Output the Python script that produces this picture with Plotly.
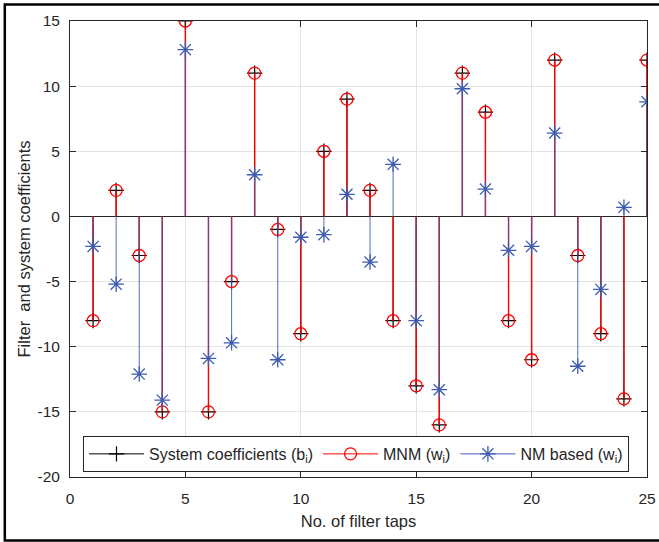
import plotly.graph_objects as go

# Filter tap indices and coefficient values
taps = list(range(1, 26))
system_b = [-8, 2, -3, -15, 15, -15, -5, 11, -1, -9, 5, 9, 2, -8, -13,
            -16, 11, 8, -8, -11, 12, -3, -9, -14, 12]
mnm_w = [-8, 2, -3, -15, 15, -15, -5, 11, -1, -9, 5, 9, 2, -8, -13,
         -16, 11, 8, -8, -11, 12, -3, -9, -14, 12]
nm_w = [-2.3, -5.2, -12.1, -14.1, 12.8, -10.9, -9.7, 3.2, -11.0, -1.6,
        -1.4, 1.7, -3.5, 4.0, -8.0, -13.3, 9.8, 2.1, -2.6, -2.3,
        6.4, -11.5, -5.6, 0.7, 8.8]

x_ticks = [0, 5, 10, 15, 20, 25]
x_tick_text = ["0", "5", "10", "15", "20", "25"]
y_ticks = [-20, -15, -10, -5, 0, 5, 10, 15]
y_tick_text = ["-20", "-15", "-10", "-5", "0", "5", "10", "15"]

FONT = "Liberation Sans, Arial, Helvetica, sans-serif"
TXT = "#262626"

BLACK = "#000000"
RED = "#ff0000"
BLUE = "#3d5bb0"


def stem_path(xs, ys):
    px, py = [], []
    for xv, yv in zip(xs, ys):
        px += [xv, xv, None]
        py += [0, yv, None]
    return px, py


series = [
    ("System coefficients (b<sub>i</sub>)", system_b, BLACK, 1.0, 1.0,
     dict(symbol="cross-thin-open", size=11, color=BLACK, line=dict(color=BLACK, width=1.2))),
    ("MNM (w<sub>i</sub>)", mnm_w, RED, 1.4, 1.0,
     dict(symbol="circle-open", size=12, color=RED, line=dict(color=RED, width=1.3))),
    ("NM based (w<sub>i</sub>)", nm_w, BLUE, 1.1, 0.8,
     dict(symbol="asterisk-open", size=13, color=BLUE, line=dict(color=BLUE, width=1.3))),
]

fig = go.Figure()

for name, vals, col, lw, op, mk in series:
    sx, sy = stem_path(taps, vals)
    fig.add_trace(go.Scatter(x=sx, y=sy, mode="lines", opacity=op,
                             line=dict(color=col, width=lw),
                             showlegend=False, hoverinfo="skip"))
    fig.add_trace(go.Scatter(x=taps, y=vals, mode="markers", marker=mk,
                             showlegend=False, name=name))
    # legend entry showing line + marker
    fig.add_trace(go.Scatter(x=[None], y=[None], mode="lines+markers",
                             line=dict(color=col, width=1), marker=mk,
                             name=name, showlegend=True))

axis_common = dict(
    showline=True, linecolor="#262626", linewidth=1, mirror="ticks",
    ticks="inside", ticklen=6, tickcolor="#262626", tickwidth=1,
    showgrid=True, gridcolor="#e3e3e3", gridwidth=1, automargin=False,
    tickfont=dict(family=FONT, size=15.5, color=TXT),
)

# outer figure frame: top, left and bottom edges (open on the right)
fx0, fx1, fy0, fy1 = -0.113, 1.2, -0.139, 1.036
frame_path = f"M {fx1},{fy1} L {fx0},{fy1} L {fx0},{fy0} L {fx1},{fy0}"

fig.update_layout(
    width=659, height=542,
    margin=dict(l=70, r=12, t=21, b=65),
    paper_bgcolor="white", plot_bgcolor="white",
    font=dict(family=FONT, size=15, color=TXT),
    xaxis=dict(range=[0, 25], tickvals=x_ticks, ticktext=x_tick_text, zeroline=False,
               ticklabelstandoff=7,
               title=dict(text="No. of filter taps", standoff=9,
                          font=dict(family=FONT, size=16.5, color=TXT)),
               **axis_common),
    yaxis=dict(range=[-20, 15], tickvals=y_ticks, ticktext=y_tick_text, zeroline=True,
               zerolinecolor="#262626", zerolinewidth=1, ticklabelstandoff=6,
               title=dict(text="Filter\u00a0 and system coefficients", standoff=2,
                          font=dict(family=FONT, size=16.5, color=TXT)),
               **axis_common),
    legend=dict(orientation="h", x=0.0225, y=0.09, xanchor="left", yanchor="top",
                bgcolor="white", bordercolor="#262626", borderwidth=1,
                font=dict(family=FONT, size=16, color=TXT),
                itemwidth=55),
    shapes=[
        dict(type="path", xref="paper", yref="paper", path=frame_path,
             line=dict(color="black", width=2.5), fillcolor="rgba(0,0,0,0)",
             layer="above"),
    ],
)

fig.write_html("out.html")
